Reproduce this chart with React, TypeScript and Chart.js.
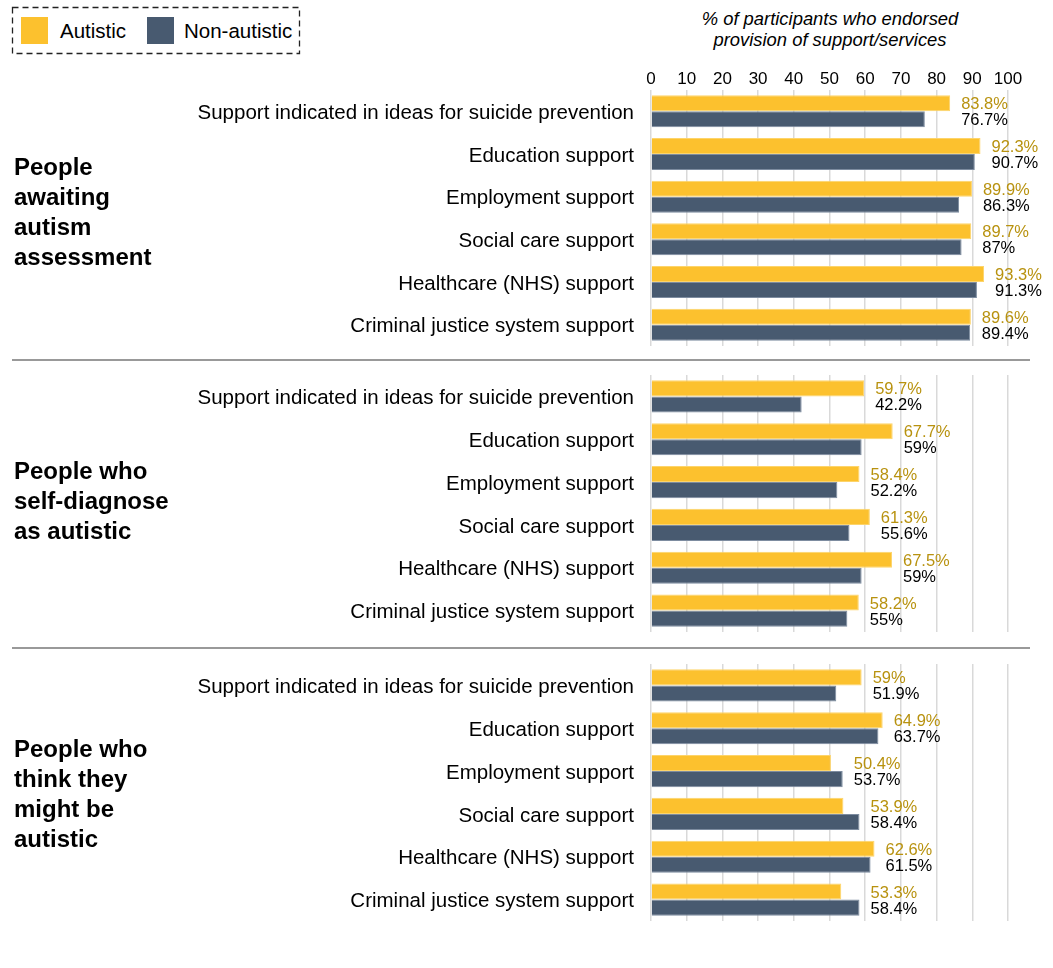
import React, { useEffect, useRef } from "react";
import { Chart, registerables } from "chart.js";

Chart.register(...registerables);

const categories = [
  "Support indicated in ideas for suicide prevention",
  "Education support",
  "Employment support",
  "Social care support",
  "Healthcare (NHS) support",
  "Criminal justice system support",
];

const seriesNames = ["Autistic", "Non-autistic"];

const groupTitles = [
  "People\nawaiting\nautism\nassessment",
  "People who\nself-diagnose\nas autistic",
  "People who\nthink they\nmight be\nautistic",
];

const awaitingAutistic = [83.8, 92.3, 89.9, 89.7, 93.3, 89.6];
const awaitingNonAutistic = [76.7, 90.7, 86.3, 87, 91.3, 89.4];

const selfDiagnoseAutistic = [59.7, 67.7, 58.4, 61.3, 67.5, 58.2];
const selfDiagnoseNonAutistic = [42.2, 59, 52.2, 55.6, 59, 55];

const thinkAutistic = [59, 64.9, 50.4, 53.9, 62.6, 53.3];
const thinkNonAutistic = [51.9, 63.7, 53.7, 58.4, 61.5, 58.4];

const xTickValues = [0, 10, 20, 30, 40, 50, 60, 70, 80, 90, 100];

const axisTitle = ["% of participants who endorsed", "provision of support/services"];

const FONT = '"Liberation Sans", Arial, Helvetica, sans-serif';
const YELLOW = "#FCC12E";
const DARK = "#485A70";
const GOLD = "#B8920F";

const valueLabelPlugin = {
  id: "valueLabels",
  afterDatasetsDraw(chart: any) {
    const ctx = chart.ctx;
    const xs = chart.scales.x;
    const m0 = chart.getDatasetMeta(0);
    const m1 = chart.getDatasetMeta(1);
    const d0 = chart.data.datasets[0].data as number[];
    const d1 = chart.data.datasets[1].data as number[];
    ctx.save();
    ctx.font = `16.5px ${FONT}`;
    ctx.textAlign = "left";
    ctx.textBaseline = "middle";
    d0.forEach((v, i) => {
      const px = xs.getPixelForValue(Math.max(v, d1[i])) + 11;
      ctx.fillStyle = GOLD;
      ctx.fillText(`${v}%`, px, m0.data[i].y + 1.5);
      ctx.fillStyle = "#000";
      ctx.fillText(`${d1[i]}%`, px, m1.data[i].y + 1.5);
    });
    ctx.restore();
  },
};

function Panel(props: {
  top: number;
  height: number;
  axisHeight: number;
  showTicks: boolean;
  autistic: number[];
  nonAutistic: number[];
}) {
  const ref = useRef<HTMLCanvasElement>(null);
  useEffect(() => {
    const chart = new Chart(ref.current as HTMLCanvasElement, {
      type: "bar",
      data: {
        labels: categories,
        datasets: [
          {
            label: seriesNames[0],
            data: props.autistic,
            backgroundColor: YELLOW,
            borderColor: "#FDD46A",
            borderWidth: 1,
            categoryPercentage: 0.75,
            barPercentage: 1,
          },
          {
            label: seriesNames[1],
            data: props.nonAutistic,
            backgroundColor: DARK,
            borderColor: "#7D8CA0",
            borderWidth: 1,
            categoryPercentage: 0.75,
            barPercentage: 1,
          },
        ],
      },
      options: {
        indexAxis: "y",
        animation: false,
        responsive: false,
        devicePixelRatio: 1,
        layout: { autoPadding: false, padding: { left: 0, right: 45, top: 0, bottom: 0 } },
        plugins: { legend: { display: false }, tooltip: { enabled: false }, title: { display: false } },
        scales: {
          x: {
            position: props.showTicks ? "top" : "bottom",
            min: 0,
            max: 100,
            afterBuildTicks: (s: any) => {
              s.ticks = xTickValues.map((v) => ({ value: v }));
            },
            ticks: {
              display: props.showTicks,
              padding: 0,
              color: "#000",
              maxRotation: 0,
              font: { family: FONT, size: 17 },
            },
            grid: { color: "#D9D9D9", lineWidth: 1.5, drawTicks: false },
            border: { display: false },
            afterFit: (s: any) => {
              s.height = props.axisHeight;
              s.paddingLeft = 0;
              s.paddingRight = 0;
            },
          },
          y: {
            ticks: { padding: 9, labelOffset: 2, color: "#000", font: { family: FONT, size: 20.5 } },
            grid: { display: false },
            border: { display: false },
            afterFit: (s: any) => {
              s.width = 651;
              s.paddingTop = 0;
              s.paddingBottom = 0;
            },
          },
        },
      } as any,
      plugins: [valueLabelPlugin],
    });
    return () => chart.destroy();
  }, []);
  return (
    <canvas
      ref={ref}
      width={1053}
      height={props.height}
      style={{ position: "absolute", left: 0, top: props.top, width: 1053, height: props.height }}
    />
  );
}

const groupTops = [152, 456, 734];

export default function App() {
  return (
    <div
      style={{
        position: "absolute",
        left: 0,
        top: 0,
        width: 1053,
        height: 968,
        background: "#fff",
        fontFamily: FONT,
        color: "#000",
        overflow: "hidden",
      }}
    >
      {/* Legend */}
      <svg width={1053} height={70} style={{ position: "absolute", left: 0, top: 0 }}>
        <rect x={12.5} y={7.5} width={287} height={46} fill="none" stroke="#222" strokeWidth={1.3} strokeDasharray="6 4" />
      </svg>
      <div style={{ position: "absolute", left: 21, top: 17, width: 27, height: 27, background: YELLOW }} />
      <div style={{ position: "absolute", left: 60, top: 18, fontSize: 20.5, lineHeight: "26px" }}>{seriesNames[0]}</div>
      <div style={{ position: "absolute", left: 147, top: 17, width: 27, height: 27, background: DARK }} />
      <div style={{ position: "absolute", left: 184, top: 18, fontSize: 20.5, lineHeight: "26px" }}>{seriesNames[1]}</div>

      {/* Axis title */}
      <div
        style={{
          position: "absolute",
          left: 630,
          width: 400,
          top: 8,
          textAlign: "center",
          fontStyle: "italic",
          fontSize: 18.4,
          lineHeight: "21px",
        }}
      >
        {axisTitle[0]}
        <br />
        {axisTitle[1]}
      </div>

      <Panel top={60} height={286} axisHeight={30} showTicks={true} autistic={awaitingAutistic} nonAutistic={awaitingNonAutistic} />
      <Panel top={375} height={257} axisHeight={0} showTicks={false} autistic={selfDiagnoseAutistic} nonAutistic={selfDiagnoseNonAutistic} />
      <Panel top={664} height={257} axisHeight={0} showTicks={false} autistic={thinkAutistic} nonAutistic={thinkNonAutistic} />

      {/* Separators */}
      <div style={{ position: "absolute", left: 12, width: 1018, top: 359, height: 2, background: "#999" }} />
      <div style={{ position: "absolute", left: 12, width: 1018, top: 647, height: 2, background: "#999" }} />

      {/* Group titles */}
      {groupTitles.map((t, i) => (
        <div
          key={i}
          style={{
            position: "absolute",
            left: 14,
            top: groupTops[i],
            fontWeight: "bold",
            fontSize: 24,
            lineHeight: "30px",
            whiteSpace: "pre-line",
          }}
        >
          {t}
        </div>
      ))}
    </div>
  );
}
